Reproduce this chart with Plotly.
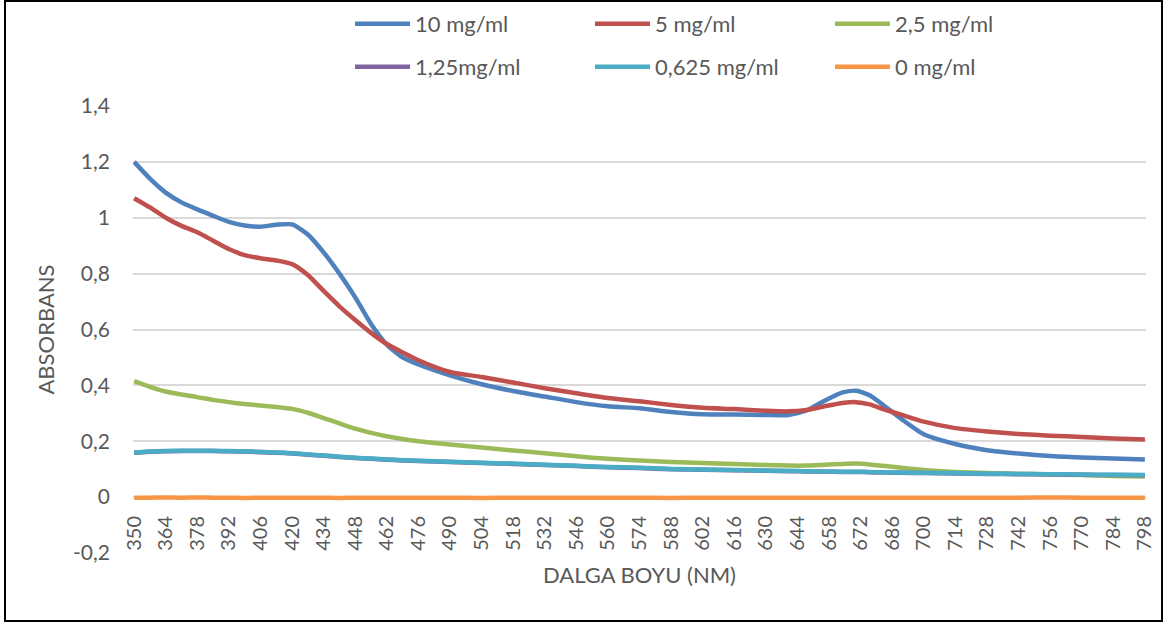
import plotly.graph_objects as go

# ---------------- data ----------------
wavelength = [350, 357, 364, 371, 378, 385, 392, 399, 406, 413, 420, 427, 434, 441, 448, 455,
              462, 469, 476, 490, 504, 518, 532, 546, 560, 574, 588, 602, 616, 630, 640, 648,
              656, 664, 670, 676, 682, 690, 700, 714, 728, 742, 756, 770, 784, 798]

conc_10 = [1.20, 1.14, 1.09, 1.055, 1.03, 1.007, 0.985, 0.972, 0.968, 0.975, 0.976, 0.94, 0.876,
           0.80, 0.715, 0.62, 0.546, 0.50, 0.475, 0.436, 0.404, 0.38, 0.36, 0.34, 0.325, 0.318,
           0.305, 0.297, 0.296, 0.294, 0.294, 0.31, 0.345, 0.375, 0.381, 0.365, 0.33, 0.28,
           0.225, 0.19, 0.168, 0.156, 0.147, 0.142, 0.138, 0.135]

conc_5 = [1.07, 1.037, 1.0, 0.971, 0.948, 0.918, 0.888, 0.866, 0.855, 0.847, 0.834, 0.795, 0.738,
          0.683, 0.634, 0.588, 0.548, 0.518, 0.49, 0.448, 0.43, 0.41, 0.39, 0.372, 0.355, 0.343,
          0.33, 0.32, 0.315, 0.309, 0.307, 0.312, 0.325, 0.337, 0.34, 0.332, 0.315, 0.295,
          0.27, 0.247, 0.235, 0.226, 0.22, 0.215, 0.21, 0.206]

conc_2_5 = [0.415, 0.395, 0.378, 0.367, 0.358, 0.348, 0.34, 0.333, 0.328, 0.323, 0.316, 0.302,
            0.283, 0.264, 0.245, 0.23, 0.218, 0.208, 0.2, 0.188, 0.178, 0.167, 0.157, 0.146,
            0.137, 0.131, 0.126, 0.122, 0.119, 0.115, 0.113, 0.113, 0.116, 0.119, 0.12, 0.117,
            0.112, 0.105, 0.097, 0.09, 0.086, 0.084, 0.081, 0.079, 0.076, 0.074]

conc_1_25 = [0.159, 0.162, 0.164, 0.165, 0.165, 0.165, 0.164, 0.163, 0.161, 0.159, 0.156, 0.152,
             0.148, 0.144, 0.14, 0.137, 0.134, 0.131, 0.129, 0.126, 0.122, 0.119, 0.115, 0.111,
             0.107, 0.104, 0.1, 0.098, 0.096, 0.094, 0.093, 0.092, 0.091, 0.09, 0.09, 0.089,
             0.088, 0.087, 0.086, 0.085, 0.083, 0.082, 0.081, 0.08, 0.079, 0.078]

conc_0_625 = [0.16, 0.163, 0.165, 0.166, 0.166, 0.166, 0.165, 0.164, 0.162, 0.16, 0.157, 0.153,
              0.149, 0.145, 0.141, 0.138, 0.135, 0.132, 0.13, 0.127, 0.123, 0.12, 0.116, 0.112,
              0.108, 0.105, 0.101, 0.099, 0.097, 0.095, 0.094, 0.093, 0.092, 0.091, 0.091, 0.09,
              0.089, 0.088, 0.087, 0.086, 0.084, 0.083, 0.082, 0.081, 0.08, 0.079]

conc_0 = [-0.002, -0.002, -0.001, -0.002, -0.001, -0.002, -0.002, -0.003, -0.002, -0.002, -0.002,
          -0.002, -0.002, -0.003, -0.002, -0.002, -0.002, -0.002, -0.002, -0.002, -0.003, -0.002,
          -0.002, -0.002, -0.002, -0.002, -0.003, -0.002, -0.002, -0.002, -0.002, -0.002, -0.002,
          -0.002, -0.002, -0.002, -0.002, -0.002, -0.002, -0.002, -0.002, -0.002, -0.001, -0.002,
          -0.002, -0.002]

series_names = ["10 mg/ml", "5 mg/ml", "2,5 mg/ml", "1,25mg/ml", "0,625 mg/ml", "0 mg/ml"]
series_colors = ["#4F81BD", "#C0504D", "#9BBB59", "#8064A2", "#4BACC6", "#F79646"]
series_values = [conc_10, conc_5, conc_2_5, conc_1_25, conc_0_625, conc_0]

x_ticks = [350, 364, 378, 392, 406, 420, 434, 448, 462, 476, 490, 504, 518, 532, 546, 560, 574,
           588, 602, 616, 630, 644, 658, 672, 686, 700, 714, 728, 742, 756, 770, 784, 798]
y_ticks = [-0.2, 0, 0.2, 0.4, 0.6, 0.8, 1.0, 1.2, 1.4]
y_tick_text = ["-0,2", "0", "0,2", "0,4", "0,6", "0,8", "1", "1,2", "1,4"]

# ---------------- layout constants ----------------
W, H = 1164, 625
PL, PR, PT, PB = 133, 1146, 106, 553
FONT = "Lato"
TXT = "#595959"

fig = go.Figure()
for i, (name, col, vals) in enumerate(zip(series_names, series_colors, series_values)):
    fig.add_trace(go.Scatter(
        x=wavelength, y=vals, name=name, mode="lines",
        line=dict(color=col, width=4.5, shape="spline", smoothing=0.6),
        legend="legend" if i < 3 else "legend2",
    ))

pw = PR - PL
ph = PB - PT


def px_x(px):
    return (px - PL) / pw


def px_y(py):
    return (PB - py) / ph


leg_common = dict(orientation="h", entrywidth=170, entrywidthmode="pixels",
                  font=dict(family=FONT, size=22, color=TXT), bgcolor="rgba(0,0,0,0)",
                  xanchor="left", yanchor="middle", itemwidth=55, traceorder="normal")

fig.update_layout(
    width=W, height=H,
    margin=dict(l=PL, r=W - PR, t=PT, b=H - PB, autoexpand=False),
    paper_bgcolor="white", plot_bgcolor="white",
    font=dict(family=FONT, color=TXT),
    showlegend=True,
    legend=dict(x=px_x(350), y=px_y(24), **leg_common),
    legend2=dict(x=px_x(350), y=px_y(67), **leg_common),
    xaxis=dict(
        range=[349.5, 798.5], tickmode="array", tickvals=x_ticks,
        ticktext=[str(v) for v in x_ticks], tickangle=-90,
        tickfont=dict(family=FONT, size=20, color=TXT),
        showgrid=False, zeroline=False, showline=False, ticks="",
        anchor="free", position=px_y(497), ticklabelstandoff=14,
        title=dict(text="DALGA BOYU (NM)", font=dict(family=FONT, size=22, color=TXT), standoff=17),
    ),
    yaxis=dict(
        range=[-0.2, 1.4], tickmode="array", tickvals=y_ticks, ticktext=y_tick_text,
        tickfont=dict(family=FONT, size=21, color=TXT),
        showgrid=True, gridcolor="#D9D9D9", gridwidth=1.5, zeroline=False, showline=False,
        ticks="", ticklabelstandoff=22,
        title=dict(text="ABSORBANS", font=dict(family=FONT, size=22, color=TXT), standoff=12),
    ),
    shapes=[dict(type="rect", xref="paper", yref="paper",
                 x0=px_x(5), x1=px_x(1162), y0=px_y(621), y1=px_y(1),
                 line=dict(color="black", width=2), layer="below")],
)

fig.write_html("out.html", config={"displayModeBar": False},
               post_script="document.body.style.margin='0';document.body.style.overflow='hidden';")
